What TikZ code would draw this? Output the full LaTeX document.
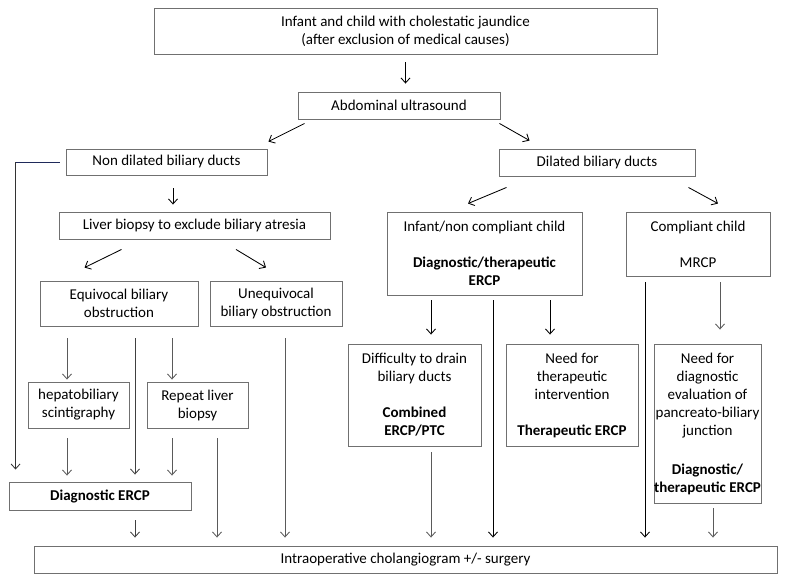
\documentclass[tikz,border=0pt]{standalone}
\usepackage{fontspec}
\setmainfont{Carlito}
\usetikzlibrary{arrows.meta,calc}
\definecolor{boxgray}{HTML}{707070}
\definecolor{arrgray}{HTML}{5A5A5A}
\definecolor{navyline}{HTML}{1F2A5A}
\begin{document}
\begin{tikzpicture}[x=1pt,y=-1pt,
  box/.style={draw=boxgray,line width=0.9pt,inner sep=0pt,align=center,
    font=\fontsize{15}{18}\selectfont},
  arr/.style={draw=black,line width=0.85pt,-{Straight Barb[length=5pt,width=9pt]}},
  garr/.style={arr,draw=arrgray}]
\useasboundingbox (0,0) rectangle (800,583);
% boxes
\node[box,minimum width=503pt,minimum height=46pt] (top) at (405.5,31) {Infant and child with cholestatic jaundice\\(after exclusion of medical causes)};
\node[box,minimum width=202pt,minimum height=27pt] (abd) at (399,105.5) {Abdominal ultrasound};
\node[box,minimum width=201pt,minimum height=26pt] (nond) at (166.5,162) {Non dilated biliary ducts};
\node[box,minimum width=196pt,minimum height=27pt] (dil) at (597,162.5) {Dilated biliary ducts};
\node[box,minimum width=271pt,minimum height=27pt] (liver) at (194.5,225.5) {Liver biopsy to exclude biliary atresia};
\node[box,minimum width=158pt,minimum height=45pt] (equiv) at (119,303.5) {Equivocal biliary\\obstruction};
\node[box,minimum width=132pt,minimum height=45pt] (unequiv) at (276,303.5) {Unequivocal\\biliary obstruction};
\node[box,minimum width=195pt,minimum height=83pt] (infant) at (484.5,253.5) {Infant/non compliant child\\[18pt]\textbf{Diagnostic/therapeutic}\\\textbf{ERCP}};
\node[box,minimum width=144pt,minimum height=64pt] (compl) at (698,244) {Compliant child\\[18pt]MRCP};
\node[box,minimum width=101pt,minimum height=46pt] (hepato) at (78.5,405) {hepatobiliary\\scintigraphy};
\node[box,minimum width=101pt,minimum height=46pt] (repeat) at (197.5,405) {Repeat liver\\biopsy};
\node[box,minimum width=133pt,minimum height=102pt] (diff) at (414.5,395) {Difficulty to drain\\biliary ducts\\[18pt]\textbf{Combined}\\\textbf{ERCP/PTC}};
\node[box,minimum width=132pt,minimum height=102pt] (ther) at (572,395) {Need for\\therapeutic\\intervention\\[18pt]\textbf{Therapeutic ERCP}};
\node[box,minimum width=101pt,minimum height=159pt] (needd) at (707.5,423.5) {Need for\\diagnostic\\evaluation of\\pancreato-biliary\\junction\\[21pt]\textbf{Diagnostic/}\\\textbf{therapeutic ERCP}};
\node[box,minimum width=182pt,minimum height=28pt] (dercp) at (100,496) {\textbf{Diagnostic ERCP}};
\node[box,minimum width=743pt,minimum height=27pt] (bottom) at (405.5,559.5) {Intraoperative cholangiogram +/- surgery};
% connectors
\draw[arr] ($(top.south)+(0,8)$) -- ($(top.south |- abd.north)+(0,-8)$);
\draw[arr] ($(abd.south west)+(7,4)$) -- ($(nond.north east)+(1,-7)$);
\draw[arr] ($(abd.south east)+(-1,4)$) -- ($(dil.north west)+(31,-8)$);
\draw[arr] ($(nond.south)+(6.5,13)$) -- ($(liver.north)+(-21.5,-7)$);
\coordinate (lc) at ($(nond.west)+(-50,0)$);
\draw[navyline,line width=0.9pt] ($(nond.west)+(-6,0)$) -- (lc);
\draw[arr,draw=black!80] (lc) -- ($(dercp.north west)+(7,-12)$);
\draw[arr] ($(liver.south west)+(63,10)$) -- ($(equiv.north west)+(45,-13)$);
\draw[arr] ($(liver.south)+(41.5,10)$) -- ($(unequiv.north)+(-10,-13)$);
\draw[arr] ($(dil.south west)+(8,11)$) -- ($(infant.north)+(-16.5,-8)$);
\draw[arr] ($(dil.south east)+(-7,11)$) -- ($(compl.north)+(20,-8)$);
% equivocal branch
\draw[garr] ($(equiv.south)+(-52,12)$) -- ($(hepato.north)+(-11.5,-2)$);
\draw[garr] ($(equiv.south)+(53,12)$) -- ($(repeat.north)+(-25.5,-2)$);
\draw[arr,draw=black!75] ($(equiv.south)+(16,12)$) -- ($(dercp.north)+(35,-7)$);
\draw[garr] ($(hepato.south)+(-11.5,10)$) -- ($(dercp.north)+(-33,-6)$);
\draw[garr] ($(repeat.south)+(-25.5,10)$) -- ($(dercp.north)+(72,-6)$);
\draw[garr] ($(repeat.south)+(19.5,10)$) -- ($(bottom.north)+(-188.5,-8)$);
\draw[garr] ($(unequiv.south)+(9,12)$) -- ($(bottom.north)+(-120.5,-8)$);
\draw[arr,draw=black!75] ($(dercp.south)+(35,10)$) -- ($(bottom.north)+(-270.5,-8)$);
% right side
\draw[arr] ($(infant.south)+(-53.5,5)$) -- ($(diff.north)+(16.5,-9)$);
\draw[arr] ($(infant.south)+(65.5,5)$) -- ($(ther.north)+(-22,-9)$);
\draw[arr] ($(infant.south)+(8.5,5)$) -- ($(bottom.north)+(87.5,-8)$);
\draw[garr] ($(diff.south)+(16.5,6)$) -- ($(bottom.north)+(25.5,-8)$);
\draw[arr] ($(compl.south)+(-53,6)$) -- ($(bottom.north)+(239.5,-8)$);
\draw[garr] ($(compl.south)+(22,6)$) -- ($(needd.north)+(12.5,-14)$);
\draw[garr] ($(needd.south)+(5.5,5)$) -- ($(bottom.north)+(307.5,-8)$);
\end{tikzpicture}
\end{document}
